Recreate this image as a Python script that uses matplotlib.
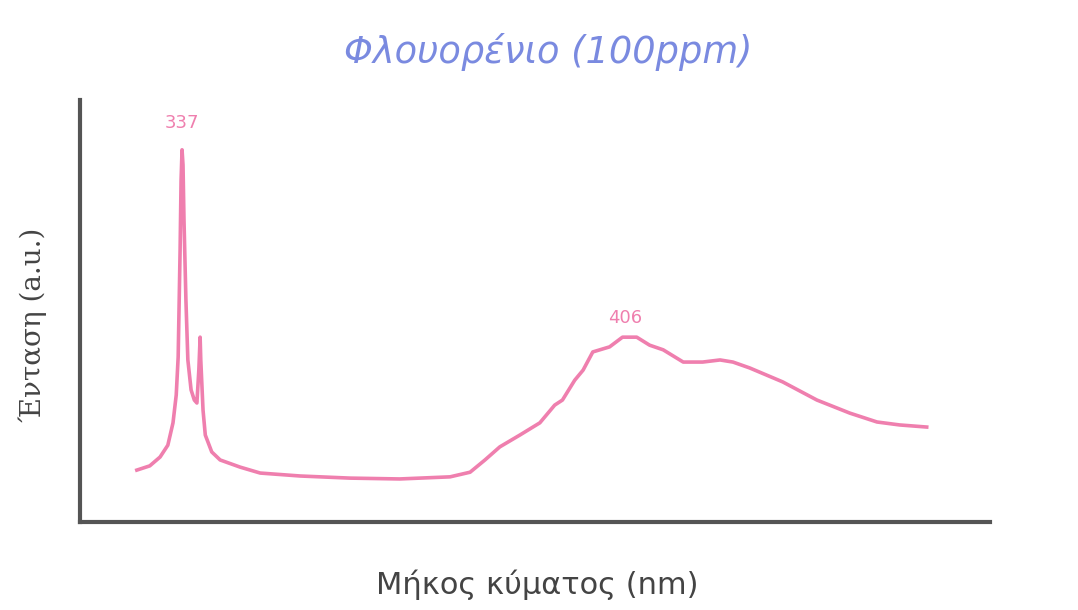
import matplotlib
matplotlib.use("Agg")
import matplotlib.pyplot as plt

# Wavelength (nm) and intensity (a.u.)
wavelength = [330.0, 332.0, 333.6, 334.8, 335.6, 336.1, 336.4, 336.7, 336.85, 337.0,
              337.15, 337.3, 337.6, 337.9, 338.4, 338.9, 339.3, 339.6, 339.8, 339.9,
              340.25, 340.6, 340.9, 341.6, 342.9, 346.0, 349.1, 355.3, 363.0, 370.7,
              378.5, 381.6, 383.9, 386.2, 389.3, 392.4, 394.7, 395.9, 397.8, 399.1,
              400.6, 403.2, 405.2, 407.4, 409.4, 411.5, 414.6, 417.6, 420.3, 422.3,
              424.9, 430.0, 435.3, 440.4, 444.6, 448.1, 452.3]
intensity = [12.3, 13.3, 15.4, 18.2, 23.5, 30.1, 39.1, 64.5, 81.0, 88.2,
             84.6, 71.6, 52.6, 38.4, 31.3, 28.9, 28.2, 36.0, 43.8, 38.4,
             26.5, 20.6, 19.4, 16.6, 14.7, 13.0, 11.6, 10.9, 10.4, 10.2,
             10.7, 11.8, 14.7, 17.8, 20.6, 23.5, 27.7, 28.9, 33.6, 36.0,
             40.3, 41.5, 43.8, 43.8, 41.9, 40.8, 37.9, 37.9, 38.4, 37.9,
             36.5, 33.2, 28.9, 25.8, 23.7, 23.0, 22.5]
peak_labels = ["337", "406"]
peak_x = [337.0, 405.6]
peak_y = [88.2, 43.8]

title = "Φλουορένιο (100ppm)"
xlabel = "Μήκος κύματος (nm)"
ylabel = "Ένταση (a.u.)"

pink = "#ef7fae"

fig = plt.figure(figsize=(10.78, 6.10), dpi=100)
ax = fig.add_axes([80/1078, 1-522/610, (990-80)/1078, (522-100)/610])

ax.plot(wavelength, intensity, color=pink, lw=2.6, solid_joinstyle="round")
ax.set_xlim(321.2, 462.1)
ax.set_ylim(0, 100)

offsets = [19, 14]
for lab, px, py, off in zip(peak_labels, peak_x, peak_y, offsets):
    ax.annotate(lab, xy=(px, py), xytext=(0, off), textcoords="offset points",
                ha="center", va="center", color=pink, fontsize=13)

for s in ["top", "right"]:
    ax.spines[s].set_visible(False)
for s in ["left", "bottom"]:
    ax.spines[s].set_color("#555555")
    ax.spines[s].set_linewidth(3)
ax.set_xticks([])
ax.set_yticks([])

fig.text(548/1078, 1-52/610, title, ha="center", va="center", color="#7a8ae0",
         fontsize=26.5, style="italic", family="DejaVu Sans")
fig.text(537/1078, 1-585/610, xlabel, ha="center", va="center", color="#444444",
         fontsize=22, family="DejaVu Sans")
fig.text(33/1078, 1-325/610, ylabel, ha="center", va="center", color="#444444",
         fontsize=20, rotation=90, family="DejaVu Serif")

fig.savefig("out.png", dpi=100)
